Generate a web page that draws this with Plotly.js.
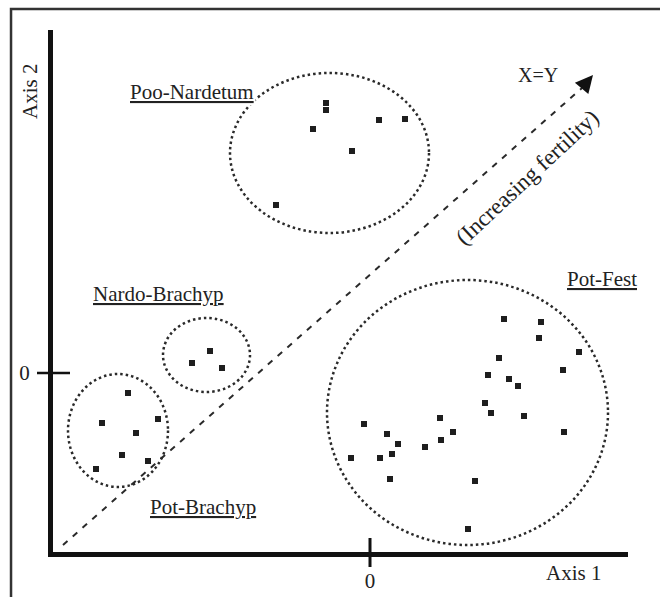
<!DOCTYPE html>
<html>
<head>
<meta charset="utf-8">
<script src="https://cdn.plot.ly/plotly-3.0.1.min.js"></script>
<style>html,body{margin:0;padding:0;background:#fff;}#chart{width:660px;height:597px;}</style>
</head>
<body>
<div id="chart"></div>
<script>
// Ordination scores (Axis 1, Axis 2) per community group
var pooNardX = [-0.44, -0.44, -0.57, 0.09, 0.35, -0.18, -0.94];
var pooNardY = [2.70, 2.63, 2.44, 2.53, 2.54, 2.22, 1.68];

var nardoBrachX = [-1.60, -1.78, -1.48];
var nardoBrachY = [0.22, 0.10, 0.05];

var potBrachX = [-2.42, -2.68, -2.12, -2.34, -2.48, -2.22, -2.74];
var potBrachY = [-0.20, -0.50, -0.46, -0.60, -0.82, -0.88, -0.96];

var potFestX = [1.34, 1.71, 1.69, 2.09, 1.29, 1.18, 1.39, 1.48, 1.93, 1.15, 1.21, 1.54, 1.94,
                0.70, 0.83, 0.71, 0.55, -0.06, 0.17, 0.28, 0.22, 0.10, -0.19, 0.20, 1.05, 0.98];
var potFestY = [0.54, 0.51, 0.35, 0.21, 0.15, -0.02, -0.06, -0.13, 0.03, -0.30, -0.40, -0.43, -0.59,
                -0.45, -0.59, -0.67, -0.74, -0.51, -0.61, -0.71, -0.81, -0.85, -0.85, -1.06, -1.08, -1.56];

// Group envelopes [x0, x1, y0, y1]
var pooNardEnv = [-1.40, 0.59, 1.40, 3.00];
var nardoBrachEnv = [-2.07, -1.20, -0.19, 0.55];
var potBrachEnv = [-3.02, -2.02, -1.14, -0.01];
var potFestEnv = [-0.43, 2.38, -1.72, 0.93];

// X=Y reference line
var diagX = [-3.07, 2.12, 2.23];
var diagY = [-1.72, 2.85, 2.98];

var groupNames = ['Poo-Nardetum', 'Nardo-Brachyp', 'Pot-Brachyp', 'Pot-Fest'];
var tickVals = [0];
var tickText = ['0'];

var FONT = 'Liberation Serif, Times New Roman, serif';
var INK = '#222';

var mk = {symbol: 'square', size: 6, color: '#1e1e1e'};
function tr(x, y, n) {
  return {type: 'scatter', mode: 'markers', x: x, y: y, name: n, marker: mk, hoverinfo: 'skip', cliponaxis: false};
}
var data = [
  tr(pooNardX, pooNardY, groupNames[0]),
  tr(nardoBrachX, nardoBrachY, groupNames[1]),
  tr(potBrachX, potBrachY, groupNames[2]),
  tr(potFestX, potFestY, groupNames[3])
];

function env(e) {
  return {type: 'circle', xref: 'x', yref: 'y', x0: e[0], x1: e[1], y0: e[2], y1: e[3],
          line: {color: '#2a2a2a', width: 2.5, dash: '2.5px,3px'}, layer: 'below'};
}

var shapes = [
  // outer frame
  {type: 'rect', xref: 'paper', yref: 'paper', x0: -0.073, x1: 1.2, y0: -0.2, y1: 1.040,
   line: {color: '#333', width: 2.5}},
  env(pooNardEnv), env(nardoBrachEnv), env(potBrachEnv), env(potFestEnv),
  {type: 'line', xref: 'x', yref: 'y', x0: diagX[0], y0: diagY[0], x1: diagX[1], y1: diagY[1],
   line: {color: '#2a2a2a', width: 2, dash: '6px,7px'}},
  // zero ticks crossing the axes
  {type: 'line', xref: 'x', yref: 'paper', ysizemode: 'pixel', yanchor: 0,
   x0: tickVals[0], x1: tickVals[0], y0: -15, y1: 14, line: {color: '#111', width: 3}},
  {type: 'line', xref: 'paper', yref: 'y', xsizemode: 'pixel', xanchor: 0,
   x0: -16, x1: 17, y0: tickVals[0], y1: tickVals[0], line: {color: '#111', width: 2.5}}
];

function lab(text, xp, yp, size, extra) {
  var a = {text: text, xref: 'paper', yref: 'paper', x: (xp - 53) / 575, y: (552 - yp) / 522,
           xanchor: 'center', yanchor: 'middle', showarrow: false,
           font: {family: FONT, size: size, color: INK}, bgcolor: 'rgba(255,255,255,1)', borderpad: 1};
  for (var k in extra) a[k] = extra[k];
  return a;
}

var annotations = [
  lab('<u>' + groupNames[0] + '</u>', 192, 92, 21),
  lab('<u>' + groupNames[1] + '</u>', 158, 294, 21),
  lab('<u>' + groupNames[2] + '</u>', 203, 507, 21),
  lab('<u>' + groupNames[3] + '</u>', 602, 279, 21),
  lab('X=Y', 538, 75, 20),
  lab('Axis 1', 573, 573, 21, {bgcolor: 'rgba(0,0,0,0)'}),
  lab('Axis 2', 30, 92, 21, {textangle: -90, bgcolor: 'rgba(0,0,0,0)'}),
  lab('(Increasing fertility)', 527, 177, 23, {textangle: -43, bgcolor: 'rgba(0,0,0,0)'}),
  {x: diagX[2], y: diagY[2], ax: diagX[1], ay: diagY[1], axref: 'x', ayref: 'y', xref: 'x', yref: 'y',
   text: '', showarrow: true, arrowhead: 2, arrowsize: 2.2, arrowwidth: 1.6, arrowcolor: '#111', standoff: 0}
];

var axBase = {
  showgrid: false, zeroline: false, showline: true, linecolor: '#111', linewidth: 5,
  ticks: '', tickmode: 'array', tickvals: tickVals, ticktext: tickText,
  tickfont: {family: FONT, size: 21, color: INK}, fixedrange: true
};

var layout = {
  width: 660, height: 597,
  margin: {l: 53, r: 32, t: 30, b: 45, pad: 0},
  paper_bgcolor: '#fff', plot_bgcolor: '#fff',
  showlegend: false,
  xaxis: Object.assign({}, axBase, {range: [-3.17, 2.58], ticklabelstandoff: 6}),
  yaxis: Object.assign({}, axBase, {range: [-1.79, 3.43], ticklabelstandoff: 14}),
  shapes: shapes,
  annotations: annotations
};

Plotly.newPlot('chart', data, layout, {staticPlot: true, displayModeBar: false});
</script>
</body>
</html>
